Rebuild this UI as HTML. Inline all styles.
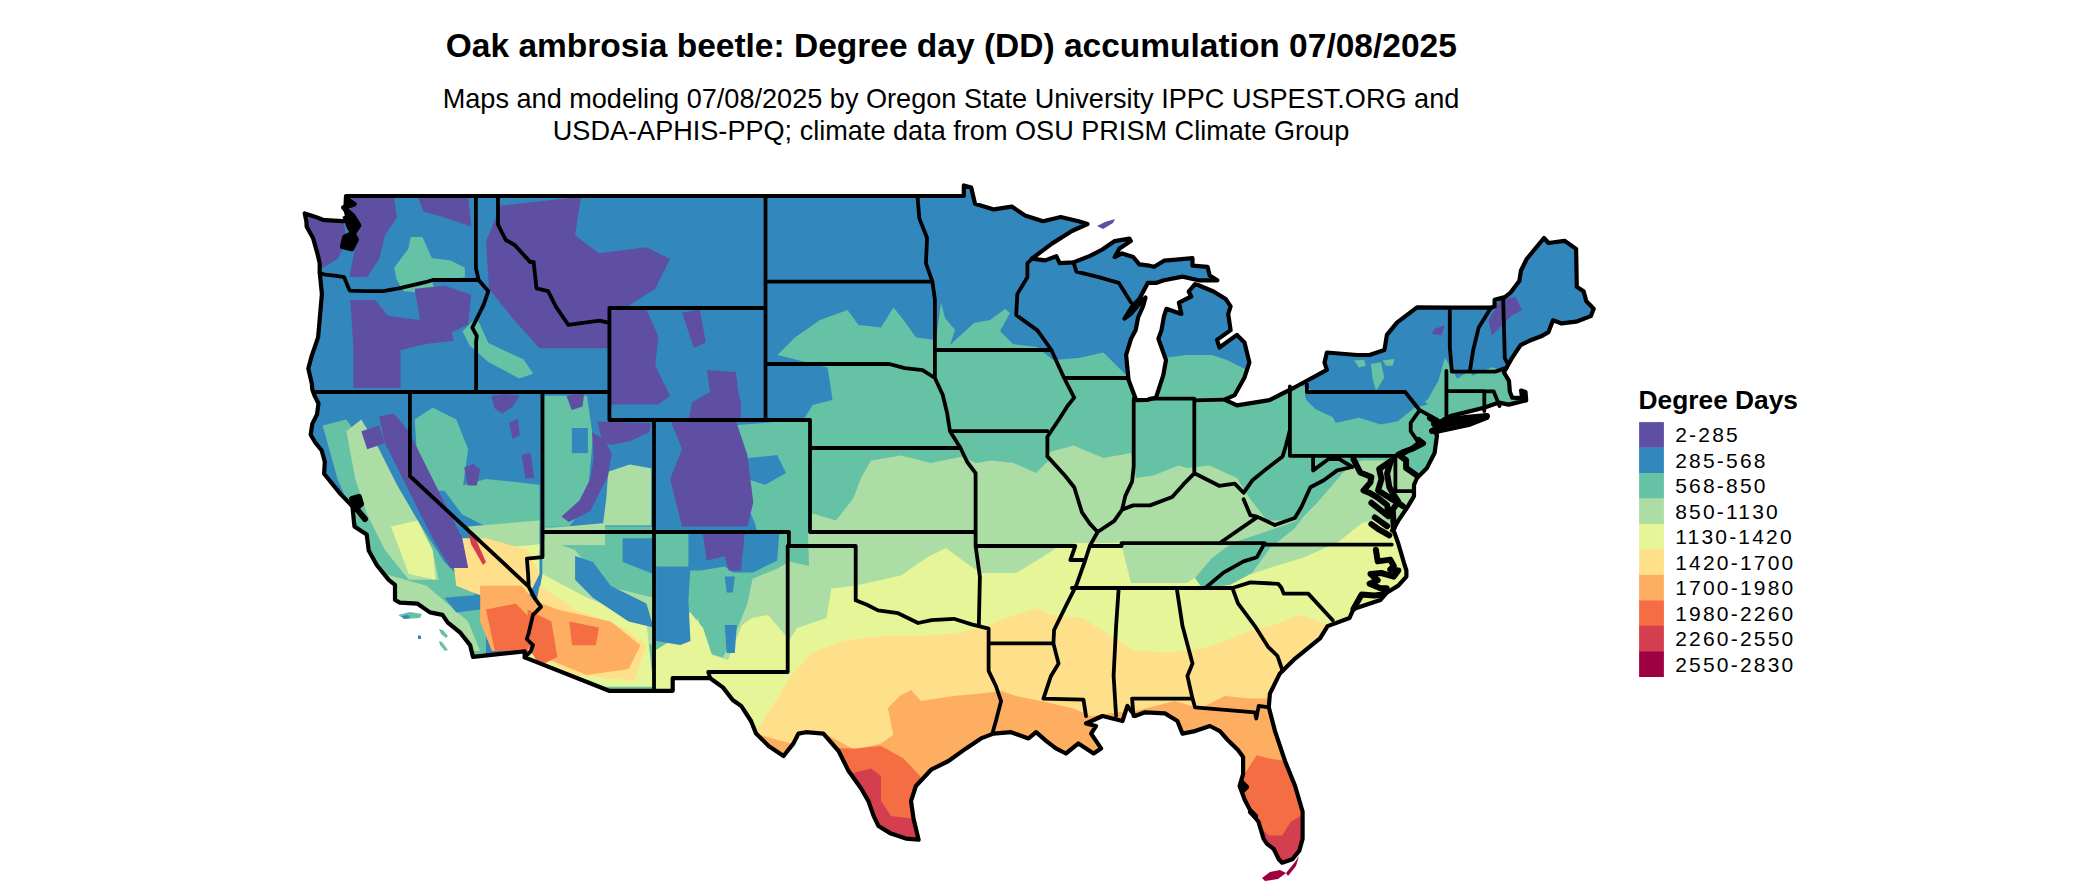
<!DOCTYPE html><html><head><meta charset="utf-8"><style>
html,body{margin:0;padding:0;background:#fff;width:2100px;height:892px;overflow:hidden;position:relative}
.t{position:absolute;font-family:"Liberation Sans",sans-serif;color:#000;white-space:nowrap}
</style></head><body>
<svg width="2100" height="892" viewBox="0 0 2100 892" style="position:absolute;left:0;top:0">
<defs><clipPath id="us"><path d="M304.7 213.4 L314.1 216.4 L323.0 219.8 L333.5 220.6 L343.1 221.2 L348.6 219.8 L345.3 210.0 L346.0 196.0 L765.5 196.0 L917.5 196.0 L963.8 196.0 L963.8 185.4 L971.2 187.6 L975.0 203.8 L993.9 209.4 L1011.8 206.6 L1025.1 215.6 L1043.0 221.2 L1060.8 217.0 L1078.6 221.2 L1087.5 224.0 L1071.9 231.0 L1051.9 243.6 L1031.8 258.7 L1045.2 260.4 L1056.3 256.2 L1059.7 263.2 L1073.5 262.4 L1090.0 255.9 L1102.3 249.5 L1114.7 241.1 L1129.4 238.6 L1130.8 241.1 L1119.6 248.4 L1114.7 257.0 L1122.1 253.4 L1133.2 257.0 L1139.3 264.3 L1149.3 265.7 L1154.2 266.8 L1164.0 260.7 L1176.5 259.6 L1192.5 258.2 L1192.5 265.7 L1207.5 266.8 L1209.7 275.5 L1217.3 280.3 L1198.5 280.3 L1182.5 276.6 L1164.0 280.3 L1156.6 282.8 L1147.9 282.8 L1139.3 299.0 L1132.1 306.3 L1124.5 318.6 L1130.8 313.9 L1139.3 303.8 L1145.5 297.6 L1143.0 306.3 L1138.1 317.5 L1135.7 330.1 L1131.0 338.8 L1126.1 355.0 L1128.6 380.0 L1136.1 400.1 L1147.7 399.8 L1156.0 397.6 L1163.3 375.2 L1166.0 360.1 L1158.4 338.8 L1161.5 330.1 L1164.0 316.1 L1166.4 308.8 L1181.4 313.9 L1178.9 302.7 L1191.2 296.5 L1188.7 291.5 L1195.0 284.2 L1198.5 285.3 L1213.5 291.5 L1225.7 299.0 L1230.6 306.3 L1228.2 313.9 L1230.6 330.1 L1217.0 339.9 L1219.5 347.5 L1236.9 334.9 L1244.5 342.4 L1249.4 362.6 L1244.5 377.4 L1234.7 395.1 L1224.6 399.6 L1236.9 405.4 L1269.4 400.1 L1294.4 387.5 L1326.9 369.9 L1324.5 362.6 L1326.9 352.5 L1357.0 355.0 L1369.5 355.0 L1384.4 350.0 L1386.9 334.9 L1396.9 322.6 L1417.0 307.4 L1449.8 307.7 L1491.0 307.7 L1494.6 306.3 L1494.6 299.9 L1504.8 297.1 L1510.6 292.6 L1519.3 281.1 L1520.9 270.8 L1526.7 259.0 L1544.0 238.0 L1548.5 243.0 L1564.5 240.8 L1576.1 248.9 L1576.8 286.7 L1583.5 291.2 L1586.4 301.3 L1593.7 308.8 L1590.8 316.1 L1576.1 321.7 L1561.6 323.4 L1553.0 320.3 L1548.5 332.1 L1541.1 336.3 L1529.3 340.8 L1520.6 345.2 L1511.9 358.1 L1510.6 360.4 L1503.9 372.4 L1509.0 380.8 L1509.9 392.0 L1512.2 397.6 L1522.2 398.2 L1521.1 390.6 L1525.5 392.0 L1526.2 400.4 L1516.6 402.6 L1508.8 404.6 L1499.0 402.6 L1483.9 407.7 L1450.2 416.1 L1440.8 422.8 L1466.5 420.6 L1487.2 417.8 L1468.7 425.0 L1442.0 430.6 L1435.3 432.6 L1437.0 435.4 L1434.6 453.0 L1427.0 467.9 L1417.0 478.0 L1414.0 484.8 L1414.0 496.1 L1407.3 507.3 L1398.3 520.7 L1393.8 528.6 L1392.0 530.5 L1393.8 531.0 L1398.3 543.5 L1404.6 565.0 L1406.4 570.4 L1406.4 576.6 L1398.3 585.6 L1386.6 592.8 L1380.4 600.0 L1353.5 608.9 L1349.5 618.0 L1327.6 626.1 L1320.0 638.4 L1295.1 658.6 L1279.9 673.4 L1269.9 693.6 L1268.8 707.3 L1275.0 731.1 L1285.0 761.0 L1295.1 786.0 L1302.6 811.7 L1302.6 838.9 L1299.3 850.6 L1292.4 859.3 L1282.1 862.7 L1278.8 859.3 L1273.7 849.0 L1267.0 843.9 L1263.6 838.9 L1258.5 821.8 L1251.8 813.4 L1244.7 799.7 L1239.6 786.0 L1243.1 774.2 L1243.1 757.1 L1238.0 750.1 L1227.7 740.0 L1219.9 731.1 L1209.9 726.0 L1195.0 731.1 L1182.5 733.6 L1177.4 721.0 L1164.9 713.4 L1145.0 712.3 L1135.0 716.0 L1127.4 705.9 L1122.5 721.0 L1102.5 716.0 L1086.0 723.5 L1096.0 726.0 L1091.1 733.6 L1101.1 748.4 L1093.6 753.5 L1078.4 743.4 L1065.9 753.5 L1055.9 748.4 L1046.1 740.9 L1036.1 732.2 L1028.5 738.4 L1011.1 732.2 L993.5 733.6 L981.0 738.4 L966.1 748.4 L948.5 761.0 L931.1 769.7 L915.9 786.0 L911.0 801.1 L913.5 818.4 L918.6 839.7 L905.9 838.6 L890.9 833.6 L878.5 826.0 L873.6 815.9 L868.4 801.1 L861.1 788.5 L848.6 771.1 L838.6 751.0 L823.4 733.6 L806.0 732.2 L798.4 733.6 L793.5 743.4 L783.5 756.0 L768.6 745.9 L756.1 733.6 L751.0 721.0 L741.2 705.9 L732.7 700.0 L722.9 687.4 L710.2 678.2 L672.7 678.2 L672.7 690.8 L609.0 690.8 L524.7 657.4 L524.7 651.3 L473.0 656.9 L470.1 645.1 L460.1 632.5 L447.6 622.4 L442.5 614.9 L430.0 612.4 L417.5 603.7 L399.9 602.6 L395.0 600.0 L395.0 584.9 L388.7 579.9 L376.7 565.0 L368.7 550.5 L366.7 534.5 L354.4 526.4 L352.4 506.2 L340.4 493.9 L324.1 473.8 L324.8 461.7 L321.7 450.5 L315.4 442.7 L310.7 434.8 L312.3 423.9 L317.0 414.4 L318.5 403.5 L314.5 395.6 L312.3 389.5 L311.8 383.6 L308.3 368.5 L311.8 355.6 L318.1 337.4 L319.7 319.2 L321.9 294.0 L319.7 272.2 L319.7 263.2 L317.4 253.4 L313.0 238.0 L306.7 226.8 L306.3 221.2Z"/></clipPath></defs>
<path d="M304.7 213.4 L314.1 216.4 L323.0 219.8 L333.5 220.6 L343.1 221.2 L348.6 219.8 L345.3 210.0 L346.0 196.0 L765.5 196.0 L917.5 196.0 L963.8 196.0 L963.8 185.4 L971.2 187.6 L975.0 203.8 L993.9 209.4 L1011.8 206.6 L1025.1 215.6 L1043.0 221.2 L1060.8 217.0 L1078.6 221.2 L1087.5 224.0 L1071.9 231.0 L1051.9 243.6 L1031.8 258.7 L1045.2 260.4 L1056.3 256.2 L1059.7 263.2 L1073.5 262.4 L1090.0 255.9 L1102.3 249.5 L1114.7 241.1 L1129.4 238.6 L1130.8 241.1 L1119.6 248.4 L1114.7 257.0 L1122.1 253.4 L1133.2 257.0 L1139.3 264.3 L1149.3 265.7 L1154.2 266.8 L1164.0 260.7 L1176.5 259.6 L1192.5 258.2 L1192.5 265.7 L1207.5 266.8 L1209.7 275.5 L1217.3 280.3 L1198.5 280.3 L1182.5 276.6 L1164.0 280.3 L1156.6 282.8 L1147.9 282.8 L1139.3 299.0 L1132.1 306.3 L1124.5 318.6 L1130.8 313.9 L1139.3 303.8 L1145.5 297.6 L1143.0 306.3 L1138.1 317.5 L1135.7 330.1 L1131.0 338.8 L1126.1 355.0 L1128.6 380.0 L1136.1 400.1 L1147.7 399.8 L1156.0 397.6 L1163.3 375.2 L1166.0 360.1 L1158.4 338.8 L1161.5 330.1 L1164.0 316.1 L1166.4 308.8 L1181.4 313.9 L1178.9 302.7 L1191.2 296.5 L1188.7 291.5 L1195.0 284.2 L1198.5 285.3 L1213.5 291.5 L1225.7 299.0 L1230.6 306.3 L1228.2 313.9 L1230.6 330.1 L1217.0 339.9 L1219.5 347.5 L1236.9 334.9 L1244.5 342.4 L1249.4 362.6 L1244.5 377.4 L1234.7 395.1 L1224.6 399.6 L1236.9 405.4 L1269.4 400.1 L1294.4 387.5 L1326.9 369.9 L1324.5 362.6 L1326.9 352.5 L1357.0 355.0 L1369.5 355.0 L1384.4 350.0 L1386.9 334.9 L1396.9 322.6 L1417.0 307.4 L1449.8 307.7 L1491.0 307.7 L1494.6 306.3 L1494.6 299.9 L1504.8 297.1 L1510.6 292.6 L1519.3 281.1 L1520.9 270.8 L1526.7 259.0 L1544.0 238.0 L1548.5 243.0 L1564.5 240.8 L1576.1 248.9 L1576.8 286.7 L1583.5 291.2 L1586.4 301.3 L1593.7 308.8 L1590.8 316.1 L1576.1 321.7 L1561.6 323.4 L1553.0 320.3 L1548.5 332.1 L1541.1 336.3 L1529.3 340.8 L1520.6 345.2 L1511.9 358.1 L1510.6 360.4 L1503.9 372.4 L1509.0 380.8 L1509.9 392.0 L1512.2 397.6 L1522.2 398.2 L1521.1 390.6 L1525.5 392.0 L1526.2 400.4 L1516.6 402.6 L1508.8 404.6 L1499.0 402.6 L1483.9 407.7 L1450.2 416.1 L1440.8 422.8 L1466.5 420.6 L1487.2 417.8 L1468.7 425.0 L1442.0 430.6 L1435.3 432.6 L1437.0 435.4 L1434.6 453.0 L1427.0 467.9 L1417.0 478.0 L1414.0 484.8 L1414.0 496.1 L1407.3 507.3 L1398.3 520.7 L1393.8 528.6 L1392.0 530.5 L1393.8 531.0 L1398.3 543.5 L1404.6 565.0 L1406.4 570.4 L1406.4 576.6 L1398.3 585.6 L1386.6 592.8 L1380.4 600.0 L1353.5 608.9 L1349.5 618.0 L1327.6 626.1 L1320.0 638.4 L1295.1 658.6 L1279.9 673.4 L1269.9 693.6 L1268.8 707.3 L1275.0 731.1 L1285.0 761.0 L1295.1 786.0 L1302.6 811.7 L1302.6 838.9 L1299.3 850.6 L1292.4 859.3 L1282.1 862.7 L1278.8 859.3 L1273.7 849.0 L1267.0 843.9 L1263.6 838.9 L1258.5 821.8 L1251.8 813.4 L1244.7 799.7 L1239.6 786.0 L1243.1 774.2 L1243.1 757.1 L1238.0 750.1 L1227.7 740.0 L1219.9 731.1 L1209.9 726.0 L1195.0 731.1 L1182.5 733.6 L1177.4 721.0 L1164.9 713.4 L1145.0 712.3 L1135.0 716.0 L1127.4 705.9 L1122.5 721.0 L1102.5 716.0 L1086.0 723.5 L1096.0 726.0 L1091.1 733.6 L1101.1 748.4 L1093.6 753.5 L1078.4 743.4 L1065.9 753.5 L1055.9 748.4 L1046.1 740.9 L1036.1 732.2 L1028.5 738.4 L1011.1 732.2 L993.5 733.6 L981.0 738.4 L966.1 748.4 L948.5 761.0 L931.1 769.7 L915.9 786.0 L911.0 801.1 L913.5 818.4 L918.6 839.7 L905.9 838.6 L890.9 833.6 L878.5 826.0 L873.6 815.9 L868.4 801.1 L861.1 788.5 L848.6 771.1 L838.6 751.0 L823.4 733.6 L806.0 732.2 L798.4 733.6 L793.5 743.4 L783.5 756.0 L768.6 745.9 L756.1 733.6 L751.0 721.0 L741.2 705.9 L732.7 700.0 L722.9 687.4 L710.2 678.2 L672.7 678.2 L672.7 690.8 L609.0 690.8 L524.7 657.4 L524.7 651.3 L473.0 656.9 L470.1 645.1 L460.1 632.5 L447.6 622.4 L442.5 614.9 L430.0 612.4 L417.5 603.7 L399.9 602.6 L395.0 600.0 L395.0 584.9 L388.7 579.9 L376.7 565.0 L368.7 550.5 L366.7 534.5 L354.4 526.4 L352.4 506.2 L340.4 493.9 L324.1 473.8 L324.8 461.7 L321.7 450.5 L315.4 442.7 L310.7 434.8 L312.3 423.9 L317.0 414.4 L318.5 403.5 L314.5 395.6 L312.3 389.5 L311.8 383.6 L308.3 368.5 L311.8 355.6 L318.1 337.4 L319.7 319.2 L321.9 294.0 L319.7 272.2 L319.7 263.2 L317.4 253.4 L313.0 238.0 L306.7 226.8 L306.3 221.2Z" fill="#3288BD"/>
<g clip-path="url(#us)"><path fill="#66C2A5" d="M740.0 490.0 L737.5 450.0 L740.0 437.5 L737.5 425.0 L770.0 422.5 L805.0 417.5 L812.5 405.0 L832.5 400.0 L830.0 382.5 L827.5 367.5 L777.5 355.0 L795.0 337.5 L820.0 320.0 L847.5 310.0 L858.5 325.0 L881.0 327.5 L893.5 307.5 L903.5 320.0 L916.0 337.5 L936.0 340.0 L941.0 302.5 L945.0 318.0 L955.0 330.0 L950.0 345.0 L974.0 323.0 L990.0 320.0 L1005.0 309.0 L1010.0 313.0 L1000.0 331.0 L1013.0 344.0 L1037.0 347.0 L1053.0 360.0 L1078.5 358.0 L1103.5 352.5 L1116.0 365.0 L1126.0 375.0 L1166.0 357.5 L1187.0 355.0 L1212.0 355.0 L1227.0 360.0 L1247.0 370.0 L1300.0 385.0 L1312.0 390.0 L1305.6 399.2 L1315.7 409.3 L1334.0 417.7 L1357.7 411.0 L1383.0 409.3 L1399.7 417.7 L1408.0 404.0 L1425.0 404.3 L1438.4 380.7 L1445.0 357.2 L1450.2 367.3 L1458.6 380.7 L1472.0 375.7 L1492.2 367.3 L1502.3 370.6 L1560.0 370.0 L1560.0 900.0 L655.0 900.0 L655.0 532.0 L757.0 532.0 L755.0 523.0Z"/><path fill="#ABDDA4" d="M811.0 513.0 L836.0 520.5 L853.5 498.0 L861.0 478.0 L871.0 460.5 L901.0 455.5 L931.0 463.0 L961.0 456.8 L976.0 463.0 L991.0 460.5 L1013.5 463.0 L1036.0 473.0 L1048.5 460.5 L1046.0 453.0 L1073.5 445.5 L1103.5 458.0 L1131.0 453.0 L1136.0 478.0 L1153.5 475.5 L1178.5 465.5 L1187.0 468.0 L1209.5 465.5 L1237.0 478.0 L1249.5 498.0 L1267.0 520.5 L1299.5 520.5 L1317.0 503.0 L1347.0 468.0 L1362.0 460.5 L1392.0 460.5 L1407.0 453.0 L1404.5 468.0 L1417.0 478.0 L1437.0 478.0 L1560.0 478.0 L1560.0 900.0 L656.0 900.0 L656.0 700.0 L658.7 657.6 L678.4 652.7 L698.0 618.0 L708.0 652.7 L722.8 657.6 L737.6 628.0 L747.5 603.4 L752.5 578.7 L777.0 568.8 L789.5 561.4 L809.0 566.0 L808.0 533.0Z"/><path fill="#E6F598" d="M656.0 650.0 L672.0 640.0 L690.0 612.0 L703.0 628.0 L712.0 655.0 L728.0 660.0 L742.0 625.0 L752.0 618.0 L768.0 615.0 L789.5 640.0 L797.0 628.0 L826.5 618.0 L831.4 588.6 L856.0 585.5 L901.0 575.5 L926.0 558.0 L946.0 548.0 L966.0 563.0 L981.0 573.0 L1016.0 573.0 L1041.0 558.0 L1056.0 548.0 L1076.0 543.0 L1091.0 543.0 L1121.0 543.0 L1131.0 583.0 L1187.0 583.0 L1202.0 573.0 L1224.5 583.0 L1269.5 568.0 L1302.0 558.0 L1337.0 543.0 L1362.0 523.0 L1382.0 518.0 L1394.5 533.0 L1560.0 533.0 L1560.0 900.0 L656.0 900.0Z"/><path fill="#FEE08B" d="M741.0 900.0 L741.0 731.0 L756.0 731.0 L771.0 708.5 L791.0 676.0 L811.0 653.5 L841.0 641.0 L881.0 636.0 L916.0 636.0 L953.5 633.5 L988.5 626.0 L1000.0 620.0 L1036.0 608.0 L1051.0 615.0 L1083.4 618.2 L1098.2 628.0 L1117.9 640.4 L1132.7 650.2 L1169.7 652.7 L1206.7 647.8 L1231.4 637.9 L1260.0 628.0 L1270.0 626.0 L1300.0 615.0 L1330.0 625.0 L1340.0 640.0 L1560.0 640.0 L1560.0 900.0Z"/><path fill="#FDAE61" d="M823.5 733.0 L853.8 749.2 L880.7 743.8 L893.3 734.8 L887.9 707.9 L900.4 695.4 L911.2 690.0 L921.0 701.0 L953.5 696.0 L981.0 693.5 L1001.0 691.0 L1016.0 696.0 L1041.0 701.0 L1073.5 708.5 L1091.0 716.0 L1120.0 712.0 L1135.0 711.0 L1175.0 701.0 L1200.0 708.5 L1225.0 696.0 L1250.0 698.5 L1290.0 698.5 L1290.0 900.0 L823.5 900.0Z"/><path fill="#FDAE61" d="M756.0 733.5 L771.0 738.0 L791.0 743.5 L800.0 758.0 L780.0 762.0 L760.0 752.0Z"/><path fill="#F46D43" d="M820.0 735.0 L838.5 748.5 L856.0 748.5 L881.0 746.0 L903.5 758.5 L920.0 776.0 L930.0 800.0 L930.0 880.0 L820.0 880.0Z"/><path fill="#F46D43" d="M1230.0 774.0 L1244.7 774.0 L1256.7 755.3 L1270.3 758.7 L1282.2 760.4 L1300.0 765.0 L1320.0 780.0 L1320.0 880.0 L1230.0 880.0Z"/><path fill="#D53E4F" d="M840.0 770.0 L851.0 773.5 L871.0 768.5 L881.0 776.0 L881.0 801.0 L891.0 816.0 L911.0 818.5 L925.0 836.0 L925.0 880.0 L840.0 880.0Z"/><path fill="#D53E4F" d="M1240.0 815.0 L1253.3 820.0 L1268.6 835.4 L1282.2 835.4 L1290.7 821.8 L1302.7 815.0 L1320.0 810.0 L1320.0 880.0 L1240.0 880.0Z"/><path fill="#66C2A5" d="M1232.0 543.0 L1262.0 533.0 L1299.0 520.0 L1307.0 508.0 L1317.0 498.0 L1295.0 528.0 L1270.0 548.0 L1252.0 573.0 L1230.0 585.0 L1202.0 588.0 L1195.0 578.0 L1212.0 558.0Z"/><path fill="#66C2A5" d="M1470.0 370.0 L1480.0 395.0 L1460.0 420.0 L1437.0 430.0 L1420.0 420.0 L1404.0 415.0 L1420.0 405.0Z"/><path fill="#3288BD" d="M1305.2 390.9 L1414.5 390.9 L1428.0 404.4 L1414.5 407.7 L1397.7 421.2 L1380.9 424.5 L1359.0 417.8 L1335.5 422.9 L1330.5 411.1 L1305.2 397.6Z"/><path fill="#66C2A5" d="M1354.0 360.6 L1364.1 359.8 L1365.8 365.7 L1359.0 367.4Z"/><path fill="#66C2A5" d="M1370.8 364.0 L1380.9 362.3 L1384.3 377.5 L1375.9 390.9 L1372.5 377.5Z"/><path fill="#66C2A5" d="M1382.6 360.6 L1394.4 359.0 L1392.7 365.7 L1386.0 365.7Z"/><path fill="#5E4FA2" d="M1488.5 320.3 L1500.3 300.1 L1515.4 296.7 L1522.2 310.2 L1512.1 315.2 L1498.6 328.7 L1491.9 335.4Z"/><path fill="#5E4FA2" d="M1434.7 328.7 L1444.8 325.3 L1441.4 335.4 L1431.4 333.7Z"/><path fill="#66C2A5" d="M394.2 267.7 L408.3 248.9 L410.7 237.1 L422.5 237.1 L431.9 258.3 L450.7 260.6 L464.9 267.7 L464.9 277.2 L431.9 281.8 L436.6 293.6 L403.6 291.3 L396.6 279.5Z"/><path fill="#66C2A5" d="M462.5 331.3 L476.6 317.2 L488.4 343.1 L523.7 359.5 L533.2 373.7 L519.0 378.4 L488.4 361.9 L469.6 345.5Z"/><path fill="#66C2A5" d="M322.7 425.4 L346.4 419.5 L367.2 449.2 L391.0 490.7 L417.7 520.4 L444.4 562.0 L468.2 585.8 L486.0 609.5 L486.0 657.1 L462.3 657.1 L426.6 627.4 L391.0 597.7 L373.2 556.1 L355.3 520.4 L337.5 478.9Z"/><path fill="#66C2A5" d="M414.7 419.5 L432.6 407.6 L456.3 419.5 L468.2 449.2 L462.3 490.7 L438.5 490.7 L417.7 467.0Z"/><path fill="#66C2A5" d="M444.4 490.7 L486.0 478.9 L539.5 484.8 L539.5 526.4 L486.0 526.4 L462.3 514.5Z"/><path fill="#66C2A5" d="M542.4 395.7 L587.0 395.7 L592.9 437.3 L587.0 502.6 L569.2 526.4 L542.4 526.4Z"/><path fill="#66C2A5" d="M542.4 526.4 L653.5 526.4 L653.5 692.7 L542.4 692.7Z"/><path fill="#ABDDA4" d="M346.4 431.3 L361.3 419.5 L379.1 449.2 L396.9 484.8 L417.7 520.4 L432.6 550.1 L438.5 579.8 L408.8 579.8 L385.0 550.1 L367.2 514.5 L355.3 478.9Z"/><path fill="#ABDDA4" d="M468.2 526.4 L539.5 520.4 L539.5 550.1 L480.1 556.1Z"/><path fill="#ABDDA4" d="M608.2 471.7 L629.7 464.6 L651.2 468.2 L651.2 525.6 L602.8 525.6 L606.3 498.6Z"/><path fill="#ABDDA4" d="M542.4 538.3 L575.1 550.1 L604.8 585.8 L653.5 597.7 L653.5 645.2 L575.1 621.4 L542.4 597.7Z"/><path fill="#ABDDA4" d="M385.0 573.9 L426.6 585.8 L468.2 621.4 L480.1 651.1 L462.3 651.1 L420.7 621.4 L391.0 597.7Z"/><path fill="#E6F598" d="M391.0 526.4 L417.7 520.4 L432.6 550.1 L435.5 579.8 L408.8 573.9Z"/><path fill="#E6F598" d="M480.1 550.1 L539.5 544.2 L539.5 573.9 L497.9 579.8Z"/><path fill="#E6F598" d="M542.4 573.9 L587.0 597.7 L646.4 621.4 L653.5 686.8 L604.8 686.8 L527.6 657.1Z"/><path fill="#FEE08B" d="M450.4 538.3 L486.0 538.3 L527.6 550.1 L539.5 573.9 L527.6 597.7 L486.0 597.7 L456.3 585.8Z"/><path fill="#FEE08B" d="M539.5 585.8 L575.1 609.5 L622.6 627.4 L646.4 645.2 L634.5 680.8 L575.1 674.9 L527.6 651.1Z"/><path fill="#FDAE61" d="M480.1 585.8 L521.6 585.8 L536.5 603.6 L527.6 651.1 L492.0 651.1 L480.1 621.4Z"/><path fill="#FDAE61" d="M527.6 597.7 L557.3 609.5 L610.7 621.4 L640.4 645.2 L628.6 668.9 L587.0 674.9 L527.6 651.1Z"/><path fill="#F46D43" d="M486.0 609.5 L515.7 603.6 L533.5 621.4 L527.6 651.1 L494.9 651.1Z"/><path fill="#F46D43" d="M569.2 621.4 L598.9 627.4 L595.9 645.2 L572.1 645.2Z"/><path fill="#F46D43" d="M527.6 609.5 L551.3 621.4 L557.3 657.1 L539.5 666.0 L527.6 645.2Z"/><path fill="#D53E4F" d="M468.2 532.3 L474.1 535.3 L486.0 562.0 L483.0 565.0 L471.2 544.2Z"/><path fill="#3288BD" d="M575.1 556.1 L592.9 562.0 L610.7 585.8 L646.4 603.6 L653.5 627.4 L628.6 621.4 L592.9 597.7 L575.1 579.8Z"/><path fill="#3288BD" d="M622.6 538.3 L653.5 538.3 L653.5 573.9 L622.6 562.0Z"/><path fill="#3288BD" d="M747.4 458.1 L777.1 455.1 L786.0 472.9 L765.2 484.8 L747.4 478.9Z"/><path fill="#3288BD" d="M444.4 597.7 L480.1 594.7 L480.1 609.5 L456.3 612.5Z"/><path fill="#5E4FA2" d="M304.8 214.5 L343.5 220.5 L346.4 241.3 L337.5 259.1 L322.7 268.0 L313.8 247.2Z"/><path fill="#5E4FA2" d="M349.4 196.7 L393.9 196.7 L396.9 217.5 L385.0 235.3 L379.1 259.1 L367.2 276.9 L349.4 276.9 L355.3 247.2 L349.4 223.5Z"/><path fill="#5E4FA2" d="M417.7 196.7 L468.2 196.7 L471.2 226.4 L444.4 217.5 L423.6 211.6Z"/><path fill="#5E4FA2" d="M350.2 300.0 L375.4 300.0 L387.9 315.7 L409.9 318.8 L449.1 323.5 L453.8 340.8 L425.6 344.0 L400.5 350.2 L400.5 387.9 L353.4 387.9 L353.4 347.1Z"/><path fill="#5E4FA2" d="M414.7 288.8 L444.4 285.8 L471.2 294.7 L468.2 324.4 L444.4 336.3 L420.7 324.4Z"/><path fill="#5E4FA2" d="M486.0 241.3 L500.9 205.6 L581.0 196.7 L575.1 235.3 L598.9 253.2 L646.4 247.2 L670.1 259.1 L655.3 288.8 L622.6 309.6 L607.8 348.2 L539.5 348.2 L512.7 318.5 L489.0 288.8Z"/><path fill="#5E4FA2" d="M610.7 309.6 L646.4 309.6 L658.3 336.3 L655.3 366.0 L670.1 395.7 L658.3 404.6 L610.7 404.6Z"/><path fill="#5E4FA2" d="M707.0 370.0 L736.0 372.0 L738.0 391.0 L741.0 402.0 L741.0 419.0 L689.0 419.0 L692.0 402.0 L710.0 392.0Z"/><path fill="#5E4FA2" d="M682.0 312.6 L699.8 309.6 L705.8 342.3 L693.9 348.2Z"/><path fill="#5E4FA2" d="M670.1 419.5 L735.5 419.5 L747.4 455.1 L753.3 502.6 L747.4 526.4 L682.0 526.4 L670.1 478.9 L682.0 449.2Z"/><path fill="#5E4FA2" d="M597.4 421.5 L651.2 423.3 L649.4 432.3 L629.7 441.3 L611.8 444.8 L602.8 443.0Z"/><path fill="#5E4FA2" d="M592.0 432.3 L604.6 439.5 L611.8 453.8 L608.2 475.4 L599.2 493.3 L590.3 511.2 L568.7 522.0 L561.5 516.6 L579.4 500.4 L590.3 478.9 L593.8 457.4Z"/><path fill="#5E4FA2" d="M491.1 395.8 L505.4 394.0 L519.8 395.8 L512.6 406.5 L501.9 413.7 L494.7 408.3Z"/><path fill="#5E4FA2" d="M509.1 422.7 L518.0 419.1 L519.8 435.2 L512.6 438.8Z"/><path fill="#5E4FA2" d="M464.2 467.5 L473.2 463.9 L480.3 469.3 L476.7 485.5 L467.8 485.5Z"/><path fill="#5E4FA2" d="M521.6 454.9 L530.6 453.1 L534.1 478.3 L525.2 478.3Z"/><path fill="#5E4FA2" d="M566.4 395.8 L584.4 392.1 L582.6 406.5 L571.8 410.1Z"/><path fill="#3288BD" d="M571.8 428.0 L587.9 428.0 L587.9 453.1 L571.8 453.1Z"/><path fill="#ABDDA4" d="M544.9 528.5 L605.0 523.1 L605.0 545.0 L544.9 545.0Z"/><path fill="#5E4FA2" d="M379.1 416.5 L393.9 413.5 L408.8 431.3 L426.6 467.0 L444.4 502.6 L462.3 538.3 L468.2 568.0 L450.4 568.0 L432.6 538.3 L414.7 502.6 L396.9 467.0 L385.0 443.2Z"/><path fill="#5E4FA2" d="M361.3 431.3 L379.1 425.4 L385.0 443.2 L367.2 449.2Z"/><path fill="#3288BD" d="M656.1 566.4 L690.5 566.4 L688.4 600.7 L690.5 641.1 L680.4 645.1 L656.1 641.1Z"/><path fill="#3288BD" d="M688.4 534.1 L779.2 534.1 L777.2 560.4 L753.0 572.5 L732.8 572.5 L724.7 566.4 L700.6 570.5 L688.4 570.5Z"/><path fill="#3288BD" d="M724.7 576.5 L734.8 576.5 L732.8 592.6 L726.7 592.6Z"/><path fill="#3288BD" d="M724.7 624.9 L736.8 624.9 L734.8 653.1 L726.7 653.1Z"/><path fill="#5E4FA2" d="M702.6 532.1 L744.9 532.1 L740.9 570.5 L728.8 570.5 L724.7 556.3 L706.6 560.4Z"/></g><path fill="#66C2A5" d="M398.0 615.0 L410.0 612.0 L422.0 614.0 L420.0 618.0 L405.0 619.0Z"/><path fill="#3288BD" d="M401.0 616.0 L408.0 615.0 L410.0 618.0 L404.0 619.0Z"/><path fill="#66C2A5" d="M439.0 629.0 L443.0 630.0 L448.0 636.0 L446.0 638.0 L441.0 634.0Z"/><path fill="#66C2A5" d="M439.0 641.0 L442.0 642.0 L448.0 650.0 L445.0 651.0 L440.0 645.0Z"/><path fill="#3288BD" d="M418.0 635.0 L421.0 636.0 L421.0 639.0 L418.0 639.0Z"/><path fill="#5E4FA2" d="M1097.0 226.0 L1105.0 222.0 L1115.0 219.0 L1113.0 223.0 L1103.0 229.0Z"/><path fill="#9E0142" d="M1262.0 878.0 L1270.0 872.0 L1280.0 870.0 L1286.0 873.0 L1278.0 879.0 L1265.0 881.0Z"/><path fill="#9E0142" d="M1286.0 873.0 L1295.0 862.0 L1299.0 856.0 L1296.0 866.0 L1288.0 876.0Z"/>
<g fill="none" stroke="#000" stroke-linejoin="round" stroke-linecap="round">
<path d="M319.7 273.0 L325.2 274.7 L336.4 275.8 L344.2 277.2 L347.5 285.6 L349.7 290.6 L365.3 291.2 L383.2 291.2 L398.8 288.4 L425.5 282.2 L432.7 280.0 L478.6 280.0 M475.9 196.0 L475.9 268.2 L478.6 280.0 M478.6 280.0 L488.4 291.2 L483.5 305.2 L472.3 327.6 L476.8 336.0 L476.1 341.6 L476.1 392.0 M316.1 392.0 L609.4 392.0 M409.9 392.0 L409.9 476.0 L528.7 586.6 L535.0 598.6 L541.0 606.8 L533.0 614.9 L528.7 633.1 L526.7 639.0 L533.0 645.1 L530.7 651.3 L524.7 657.4 M542.5 392.0 L542.5 557.2 L526.9 558.6 L528.1 574.0 L528.7 586.6 M542.5 532.0 L788.9 532.0 M654.0 420.0 L654.0 690.8 M498.0 196.0 L498.0 224.6 L505.8 240.0 L514.7 245.0 L530.3 262.1 L533.6 261.8 L536.5 288.4 L548.1 291.2 L555.9 306.6 L568.2 324.8 L579.3 323.4 L599.4 320.6 L609.4 322.8 M609.4 308.0 L609.4 420.0 M609.4 308.0 L765.5 308.0 M609.4 420.0 L810.0 420.0 M765.5 196.0 L765.5 420.0 M765.5 281.7 L932.4 281.7 M765.5 364.0 L889.2 364.0 L904.8 368.2 L922.6 370.2 L934.9 378.0 M810.0 420.0 L810.0 532.0 M810.0 448.0 L960.5 448.0 M810.0 532.0 L975.6 532.0 M975.6 546.0 L975.6 473.2 L967.2 462.0 L960.5 448.0 L950.0 431.2 L947.1 413.0 L942.7 394.8 L934.9 378.0 M788.9 532.0 L788.9 546.0 L855.7 546.0 L855.7 600.3 M787.7 546.0 L787.7 672.0 L708.2 672.0 L710.2 678.2 M855.7 600.3 L866.9 604.8 L878.0 610.4 L898.1 613.2 L918.1 623.0 L931.5 620.2 L953.8 618.8 L971.6 624.4 L978.8 626.1 L988.6 628.6 L988.6 670.9 L995.9 686.0 L1001.1 701.1 L995.9 721.0 L992.4 733.6 M975.6 546.0 L979.9 576.8 L978.8 626.1 M975.6 546.0 L1075.3 546.0 L1070.4 560.0 L1085.3 560.0 M988.6 643.4 L1053.4 643.4 M1097.6 532.0 L1089.8 546.0 L1085.3 560.0 L1076.4 585.2 L1066.4 604.8 L1054.1 630.0 L1053.4 643.4 L1058.6 663.6 L1051.0 675.9 L1043.4 698.6 L1083.5 699.7 L1086.0 716.0 M1097.6 532.0 L1089.8 523.6 L1082.0 512.4 L1074.2 487.2 L1065.3 476.0 L1047.4 456.4 L1047.4 436.8 L1058.6 420.0 L1067.5 406.0 L1074.2 397.6 L1064.1 378.0 L1051.4 350.0 L1037.4 330.4 L1016.2 315.0 L1017.3 294.0 L1027.4 277.2 L1027.4 263.2 L1031.8 259.0 M1047.4 431.2 L950.0 431.2 M934.9 378.0 L934.9 350.0 L1051.4 350.0 M1064.1 378.0 L1127.7 378.0 M934.9 350.0 L934.9 299.6 L932.4 281.7 L925.9 263.2 L927.1 238.0 L919.3 218.4 L917.5 196.0 M1073.5 262.4 L1076.4 271.6 L1098.7 277.2 L1118.7 282.8 L1131.0 302.4 M1133.7 398.7 L1133.7 466.2 L1132.1 481.6 L1125.4 495.6 L1122.1 509.6 M1122.1 509.6 L1114.3 520.8 L1097.6 532.0 M1122.1 509.6 L1133.2 505.4 L1150.0 505.4 L1172.2 497.0 L1183.4 484.4 L1194.5 473.2 L1219.1 485.8 L1234.7 483.6 L1243.6 492.8 L1252.5 480.2 L1267.0 468.4 L1282.6 456.4 L1285.9 445.8 L1289.9 430.1 M1149.5 398.7 L1194.3 398.7 L1194.3 473.2 M1194.3 400.4 L1224.6 399.6 M1289.9 455.8 L1289.9 386.4 M1243.6 499.2 L1250.3 515.2 L1257.6 516.9 L1219.5 543.2 M1264.7 543.2 L1121.6 543.2 L1121.6 546.0 L1089.8 546.0 M1264.7 543.2 L1256.9 557.2 L1243.6 561.4 L1223.5 572.6 L1205.2 588.0 M1205.2 588.0 L1071.9 588.0 M1264.7 544.6 L1391.8 544.6 M1205.2 588.0 L1232.4 588.0 L1250.3 582.4 L1278.3 583.8 L1281.5 588.0 L1283.7 593.6 L1308.2 593.6 L1332.7 620.2 M1232.4 588.0 L1238.0 603.4 L1254.9 626.1 L1268.1 646.8 L1277.5 656.0 L1282.6 670.9 M1176.7 588.0 L1182.5 626.1 L1192.5 663.6 L1187.4 675.9 L1192.5 698.6 L1195.0 707.3 L1254.9 712.3 L1256.3 718.5 L1258.7 705.9 L1268.8 707.3 M1132.1 698.6 L1192.5 698.6 M1132.1 698.6 L1133.5 716.0 M1118.7 588.0 L1116.1 626.1 L1113.6 675.9 L1116.1 716.0 M1257.6 516.9 L1274.8 525.0 L1294.8 518.0 L1301.5 506.8 L1310.4 487.2 L1323.8 480.2 L1337.2 470.4 L1352.3 467.0 M1352.3 467.0 L1339.4 459.2 L1328.3 459.2 L1313.1 470.4 L1313.1 455.8 M1289.9 455.8 L1395.4 455.8 M1395.4 455.8 L1395.4 491.1 L1411.9 491.1 M1400.7 456.4 L1410.1 449.4 L1418.5 442.4 L1410.7 431.2 L1410.7 422.8 L1419.7 410.2 M1306.9 384.4 L1306.9 392.0 L1405.2 392.0 L1419.7 410.2 M1419.7 410.2 L1437.5 420.0 L1435.3 428.4 M1443.1 420.0 L1446.4 417.2 L1446.4 390.6 L1446.4 371.0 M1451.8 371.0 L1449.8 347.2 L1449.8 307.7 M1446.4 391.2 L1484.3 391.2 L1484.3 411.0 M1484.3 391.4 L1493.7 391.4 L1499.5 406.0 M1451.8 371.6 L1495.4 371.6 L1506.6 367.6 M1469.8 371.6 L1473.2 350.0 L1478.7 327.6 L1491.0 307.7 M1503.2 299.9 L1504.8 358.1 L1507.7 364.0" stroke-width="3.8"/>
<path d="M304.7 213.4 L314.1 216.4 L323.0 219.8 L333.5 220.6 L343.1 221.2 L348.6 219.8 L345.3 210.0 L346.0 196.0 L765.5 196.0 L917.5 196.0 L963.8 196.0 L963.8 185.4 L971.2 187.6 L975.0 203.8 L993.9 209.4 L1011.8 206.6 L1025.1 215.6 L1043.0 221.2 L1060.8 217.0 L1078.6 221.2 L1087.5 224.0 L1071.9 231.0 L1051.9 243.6 L1031.8 258.7 L1045.2 260.4 L1056.3 256.2 L1059.7 263.2 L1073.5 262.4 L1090.0 255.9 L1102.3 249.5 L1114.7 241.1 L1129.4 238.6 L1130.8 241.1 L1119.6 248.4 L1114.7 257.0 L1122.1 253.4 L1133.2 257.0 L1139.3 264.3 L1149.3 265.7 L1154.2 266.8 L1164.0 260.7 L1176.5 259.6 L1192.5 258.2 L1192.5 265.7 L1207.5 266.8 L1209.7 275.5 L1217.3 280.3 L1198.5 280.3 L1182.5 276.6 L1164.0 280.3 L1156.6 282.8 L1147.9 282.8 L1139.3 299.0 L1132.1 306.3 L1124.5 318.6 L1130.8 313.9 L1139.3 303.8 L1145.5 297.6 L1143.0 306.3 L1138.1 317.5 L1135.7 330.1 L1131.0 338.8 L1126.1 355.0 L1128.6 380.0 L1136.1 400.1 L1147.7 399.8 L1156.0 397.6 L1163.3 375.2 L1166.0 360.1 L1158.4 338.8 L1161.5 330.1 L1164.0 316.1 L1166.4 308.8 L1181.4 313.9 L1178.9 302.7 L1191.2 296.5 L1188.7 291.5 L1195.0 284.2 L1198.5 285.3 L1213.5 291.5 L1225.7 299.0 L1230.6 306.3 L1228.2 313.9 L1230.6 330.1 L1217.0 339.9 L1219.5 347.5 L1236.9 334.9 L1244.5 342.4 L1249.4 362.6 L1244.5 377.4 L1234.7 395.1 L1224.6 399.6 L1236.9 405.4 L1269.4 400.1 L1294.4 387.5 L1326.9 369.9 L1324.5 362.6 L1326.9 352.5 L1357.0 355.0 L1369.5 355.0 L1384.4 350.0 L1386.9 334.9 L1396.9 322.6 L1417.0 307.4 L1449.8 307.7 L1491.0 307.7 L1494.6 306.3 L1494.6 299.9 L1504.8 297.1 L1510.6 292.6 L1519.3 281.1 L1520.9 270.8 L1526.7 259.0 L1544.0 238.0 L1548.5 243.0 L1564.5 240.8 L1576.1 248.9 L1576.8 286.7 L1583.5 291.2 L1586.4 301.3 L1593.7 308.8 L1590.8 316.1 L1576.1 321.7 L1561.6 323.4 L1553.0 320.3 L1548.5 332.1 L1541.1 336.3 L1529.3 340.8 L1520.6 345.2 L1511.9 358.1 L1510.6 360.4 L1503.9 372.4 L1509.0 380.8 L1509.9 392.0 L1512.2 397.6 L1522.2 398.2 L1521.1 390.6 L1525.5 392.0 L1526.2 400.4 L1516.6 402.6 L1508.8 404.6 L1499.0 402.6 L1483.9 407.7 L1450.2 416.1 L1440.8 422.8 L1466.5 420.6 L1487.2 417.8 L1468.7 425.0 L1442.0 430.6 L1435.3 432.6 L1437.0 435.4 L1434.6 453.0 L1427.0 467.9 L1417.0 478.0 L1414.0 484.8 L1414.0 496.1 L1407.3 507.3 L1398.3 520.7 L1393.8 528.6 L1392.0 530.5 L1393.8 531.0 L1398.3 543.5 L1404.6 565.0 L1406.4 570.4 L1406.4 576.6 L1398.3 585.6 L1386.6 592.8 L1380.4 600.0 L1353.5 608.9 L1349.5 618.0 L1327.6 626.1 L1320.0 638.4 L1295.1 658.6 L1279.9 673.4 L1269.9 693.6 L1268.8 707.3 L1275.0 731.1 L1285.0 761.0 L1295.1 786.0 L1302.6 811.7 L1302.6 838.9 L1299.3 850.6 L1292.4 859.3 L1282.1 862.7 L1278.8 859.3 L1273.7 849.0 L1267.0 843.9 L1263.6 838.9 L1258.5 821.8 L1251.8 813.4 L1244.7 799.7 L1239.6 786.0 L1243.1 774.2 L1243.1 757.1 L1238.0 750.1 L1227.7 740.0 L1219.9 731.1 L1209.9 726.0 L1195.0 731.1 L1182.5 733.6 L1177.4 721.0 L1164.9 713.4 L1145.0 712.3 L1135.0 716.0 L1127.4 705.9 L1122.5 721.0 L1102.5 716.0 L1086.0 723.5 L1096.0 726.0 L1091.1 733.6 L1101.1 748.4 L1093.6 753.5 L1078.4 743.4 L1065.9 753.5 L1055.9 748.4 L1046.1 740.9 L1036.1 732.2 L1028.5 738.4 L1011.1 732.2 L993.5 733.6 L981.0 738.4 L966.1 748.4 L948.5 761.0 L931.1 769.7 L915.9 786.0 L911.0 801.1 L913.5 818.4 L918.6 839.7 L905.9 838.6 L890.9 833.6 L878.5 826.0 L873.6 815.9 L868.4 801.1 L861.1 788.5 L848.6 771.1 L838.6 751.0 L823.4 733.6 L806.0 732.2 L798.4 733.6 L793.5 743.4 L783.5 756.0 L768.6 745.9 L756.1 733.6 L751.0 721.0 L741.2 705.9 L732.7 700.0 L722.9 687.4 L710.2 678.2 L672.7 678.2 L672.7 690.8 L609.0 690.8 L524.7 657.4 L524.7 651.3 L473.0 656.9 L470.1 645.1 L460.1 632.5 L447.6 622.4 L442.5 614.9 L430.0 612.4 L417.5 603.7 L399.9 602.6 L395.0 600.0 L395.0 584.9 L388.7 579.9 L376.7 565.0 L368.7 550.5 L366.7 534.5 L354.4 526.4 L352.4 506.2 L340.4 493.9 L324.1 473.8 L324.8 461.7 L321.7 450.5 L315.4 442.7 L310.7 434.8 L312.3 423.9 L317.0 414.4 L318.5 403.5 L314.5 395.6 L312.3 389.5 L311.8 383.6 L308.3 368.5 L311.8 355.6 L318.1 337.4 L319.7 319.2 L321.9 294.0 L319.7 272.2 L319.7 263.2 L317.4 253.4 L313.0 238.0 L306.7 226.8 L306.3 221.2Z" stroke-width="4.2"/>
</g>
<g fill="none" stroke="#000" stroke-width="6" stroke-linejoin="round" stroke-linecap="round"><path d="M1242.0 783.0 L1246.0 787.0 L1243.0 790.0 M1251.0 812.0 L1255.0 816.0 M1432.0 431.0 L1445.0 425.0 L1470.0 420.0 L1487.0 416.0 L1465.0 418.0 L1445.0 421.0 L1434.0 424.0 M1430.0 418.0 L1436.0 422.0 L1440.0 430.0 M352.0 499.0 L359.0 497.0 L361.0 504.0 L356.0 508.0 L360.0 513.0 L365.0 519.0 M354.0 503.0 L358.0 506.0 M1393.8 459.1 L1379.2 469.1 L1381.5 479.2 L1378.1 490.4 L1390.4 498.3 L1398.3 502.8 L1402.8 506.1 M1353.5 459.1 L1360.2 472.5 L1371.4 477.0 L1370.3 482.6 L1363.5 490.4 L1369.1 492.7 L1377.0 497.2 L1387.1 505.0 L1388.2 511.7 M1371.4 502.8 L1388.2 516.2 M1374.8 517.4 L1387.1 526.3 M1371.4 524.1 L1379.2 529.7 L1389.3 535.3 M1390.4 462.4 L1387.1 473.6 L1389.3 487.1 L1393.8 494.9 L1398.3 501.7 L1392.7 509.5 L1393.8 527.4 M1418.5 440.0 L1423.0 443.4 L1411.7 449.0 L1402.8 452.3 L1398.3 454.6 L1406.1 460.2 L1406.1 468.0 L1417.4 475.9 M1375.9 549.7 L1377.7 561.4 L1390.2 559.6 L1393.8 565.9 L1390.2 569.5 L1398.3 570.4 L1393.8 576.6 L1381.3 573.0 L1370.5 573.9 L1377.7 580.2 L1369.6 583.8 L1380.4 588.3 L1386.6 588.3 L1383.0 594.6 L1374.1 595.5 L1361.5 594.6 L1353.5 608.9"/></g>
<path d="M347.1 199.4 L354.2 204.1 L343.6 207.7 L353.0 215.9 L358.9 225.3 L354.2 232.4 L344.7 237.1 L342.4 246.5 L351.8 248.9 L356.5 239.5 L349.5 227.7 L344.7 215.9" fill="#000" stroke="#000" stroke-width="5" stroke-linejoin="round"/>
<text x="1638.6" y="409.2" font-family="Liberation Sans, sans-serif" font-weight="bold" font-size="26.3">Degree Days</text><rect x="1639.1" y="422.10" width="24.8" height="25.76" fill="#5E4FA2"/><text x="1675.2" y="442.3" font-family="Liberation Sans, sans-serif" font-size="21" letter-spacing="2.2">2-285</text><rect x="1639.1" y="447.56" width="24.8" height="25.76" fill="#3288BD"/><text x="1675.2" y="467.8" font-family="Liberation Sans, sans-serif" font-size="21" letter-spacing="2.2">285-568</text><rect x="1639.1" y="473.02" width="24.8" height="25.76" fill="#66C2A5"/><text x="1675.2" y="493.3" font-family="Liberation Sans, sans-serif" font-size="21" letter-spacing="2.2">568-850</text><rect x="1639.1" y="498.48" width="24.8" height="25.76" fill="#ABDDA4"/><text x="1675.2" y="518.7" font-family="Liberation Sans, sans-serif" font-size="21" letter-spacing="2.2">850-1130</text><rect x="1639.1" y="523.94" width="24.8" height="25.76" fill="#E6F598"/><text x="1675.2" y="544.2" font-family="Liberation Sans, sans-serif" font-size="21" letter-spacing="2.2">1130-1420</text><rect x="1639.1" y="549.40" width="24.8" height="25.76" fill="#FEE08B"/><text x="1675.2" y="569.6" font-family="Liberation Sans, sans-serif" font-size="21" letter-spacing="2.2">1420-1700</text><rect x="1639.1" y="574.86" width="24.8" height="25.76" fill="#FDAE61"/><text x="1675.2" y="595.1" font-family="Liberation Sans, sans-serif" font-size="21" letter-spacing="2.2">1700-1980</text><rect x="1639.1" y="600.32" width="24.8" height="25.76" fill="#F46D43"/><text x="1675.2" y="620.6" font-family="Liberation Sans, sans-serif" font-size="21" letter-spacing="2.2">1980-2260</text><rect x="1639.1" y="625.78" width="24.8" height="25.76" fill="#D53E4F"/><text x="1675.2" y="646.0" font-family="Liberation Sans, sans-serif" font-size="21" letter-spacing="2.2">2260-2550</text><rect x="1639.1" y="651.24" width="24.8" height="25.76" fill="#9E0142"/><text x="1675.2" y="671.5" font-family="Liberation Sans, sans-serif" font-size="21" letter-spacing="2.2">2550-2830</text>
<g font-family="Liberation Sans, sans-serif" text-anchor="middle" fill="#000">
<text x="951.3" y="57.2" font-weight="bold" font-size="33.5">Oak ambrosia beetle: Degree day (DD) accumulation 07/08/2025</text>
<text x="951" y="108" font-size="27.1">Maps and modeling 07/08/2025 by Oregon State University IPPC USPEST.ORG and</text>
<text x="951" y="139.5" font-size="27.1">USDA-APHIS-PPQ; climate data from OSU PRISM Climate Group</text>
</g>
</svg>
</body></html>
